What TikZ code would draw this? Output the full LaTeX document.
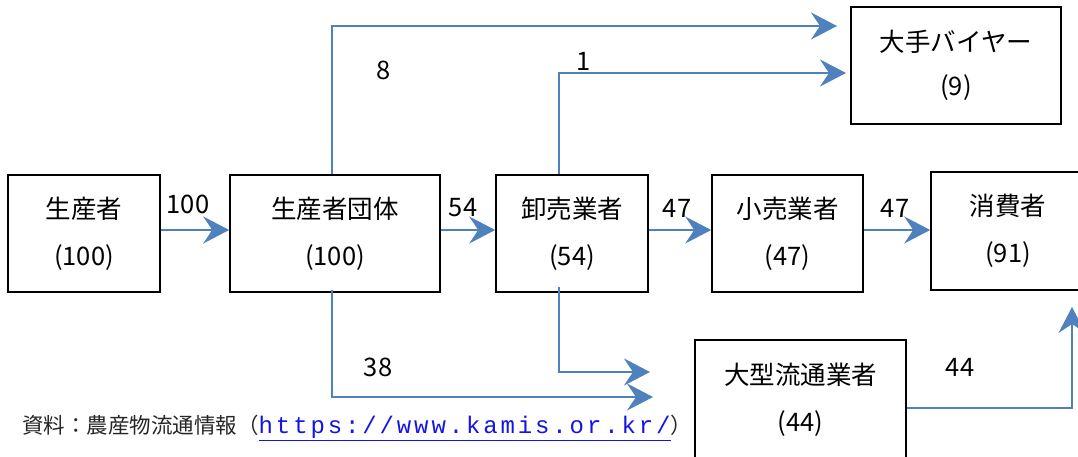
\documentclass[tikz,border=0pt]{standalone}
\usepackage{fontspec}
\setmainfont{Noto Sans CJK JP}
\newfontfamily\urlfont[LetterSpace=12]{Liberation Mono}
\usetikzlibrary{arrows.meta,calc}
\definecolor{arrblue}{RGB}{79,129,189}
\definecolor{urlblue}{RGB}{20,20,230}
\begin{document}
\begin{tikzpicture}[x=1pt,y=-1pt,
  box/.style={draw=black, line width=1.6pt, align=center, inner sep=0pt,
    font={\fontsize{25.5}{47}\selectfont}},
  arr/.style={draw=arrblue, line width=1.8pt,
    -{Stealth[length=26pt,width=27pt,inset=9pt]}},
  lbl/.style={font={\fontsize{25.5}{25.5}\selectfont}, inner sep=0pt}]
\useasboundingbox (0,0) rectangle (1078,457);
\clip (0,0) rectangle (1078,457);
% boxes
\node[box, minimum width=152pt, minimum height=117pt] (prod) at (84,233.5) {生産者\\(100)};
\node[box, minimum width=210pt, minimum height=117pt] (grp) at (335,233.5) {生産者団体\\(100)};
\node[box, minimum width=152pt, minimum height=117pt] (wh) at (572,233.5) {卸売業者\\(54)};
\node[box, minimum width=151pt, minimum height=117pt] (ret) at (787.5,233.5) {小売業者\\(47)};
\node[box, minimum width=154pt, minimum height=118pt] (cons) at (1008,231) {消費者\\(91)};
\node[box, minimum width=210pt, minimum height=117pt, font={\fontsize{25.5}{44}\selectfont}] (buyer) at (956,65.5) {大手バイヤー\\(9)};
\node[box, minimum width=211pt, minimum height=120pt] (mass) at (800.5,400) {大型流通業者\\(44)};
% coordinates
\coordinate (t8) at (837,26);
\coordinate (t1) at (846,73);
\coordinate (t38) at (653,397);
\coordinate (tw) at (650,372);
\coordinate (t44) at (1072,307);
% horizontal arrows
\draw[arr] ([yshift=3.5pt]prod.east) -- ([yshift=3.5pt]grp.west);
\draw[arr] ([yshift=3.5pt]grp.east) -- ([yshift=3.5pt]wh.west);
\draw[arr] ([yshift=3.5pt]wh.east) -- ([yshift=3.5pt]ret.west);
\draw[arr] ([yshift=3.5pt]ret.east) -- ([yshift=3.5pt]ret.east -| cons.west);
% bent arrows
\draw[arr] ([xshift=-3pt]grp.north) |- (t8);
\draw[arr] ([xshift=-13pt]wh.north) |- (t1);
\draw[arr] ([xshift=-3pt,yshift=3pt]grp.south) |- (t38);
\draw[arr] ([xshift=-13pt,yshift=6pt]wh.south) |- (tw);
\draw[arr] ([yshift=-8pt]mass.east) -| (t44);
% labels
\node[lbl] (l100) at (188,204) {100};
\node[lbl] (l54) at (463,208) {54};
\node[lbl] (l47a) at (677,208) {47};
\node[lbl] (l47b) at (895,208) {47};
\node[lbl] (l8) at (384,70) {8};
\node[lbl] (l1) at (584,61) {1};
\node[lbl] (l38) at (378,367) {38};
\node[lbl] (l44) at (960,367) {44};
% source
\node[anchor=west, inner sep=0pt, text=black!85, font={\fontsize{21.5}{21.5}\selectfont}] (src) at (22,428)
  {資料：農産物流通情報（{\fontsize{24}{24}\urlfont\color{urlblue}\underline{https://www.kamis.or.kr/}}）};
\end{tikzpicture}
\end{document}
